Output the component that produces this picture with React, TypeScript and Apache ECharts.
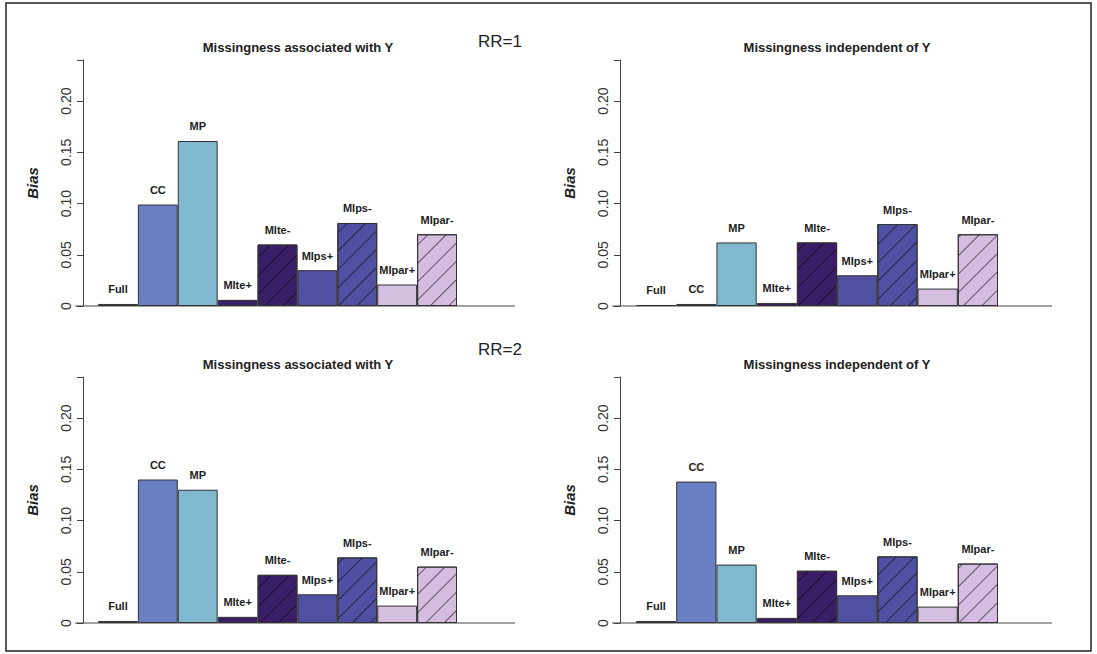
import React, { useEffect, useRef } from "react";
import * as echarts from "echarts";

const categories = ["Full", "CC", "MP", "MIte+", "MIte-", "MIps+", "MIps-", "MIpar+", "MIpar-"];
const rr1AssocValues = [0.002, 0.099, 0.161, 0.006, 0.060, 0.035, 0.081, 0.021, 0.070];
const rr1IndepValues = [0.001, 0.002, 0.062, 0.003, 0.062, 0.030, 0.080, 0.017, 0.070];
const rr2AssocValues = [0.002, 0.140, 0.130, 0.006, 0.047, 0.028, 0.064, 0.017, 0.055];
const rr2IndepValues = [0.002, 0.138, 0.057, 0.005, 0.051, 0.027, 0.065, 0.016, 0.058];
const yTicks = [0, 0.05, 0.1, 0.15, 0.2];
const titles = ["Missingness associated with Y", "Missingness independent of Y"];

const colors = ["#9a9a9a", "#6a80c4", "#7fb8cf", "#3a1f68", "#3a1f68", "#5050a2", "#5050a2", "#d4bfe0", "#d4bde0"];
const hatched = [false, false, false, false, true, false, true, false, true];

const panels = [
  { values: rr1AssocValues, left: 98, width: 359, top: 60, axisX: 83, title: titles[0], tx: 298 },
  { values: rr1IndepValues, left: 636, width: 362, top: 60, axisX: 620, title: titles[1], tx: 837 },
  { values: rr2AssocValues, left: 98, width: 359, top: 377, axisX: 83, title: titles[0], tx: 298 },
  { values: rr2IndepValues, left: 636, width: 362, top: 377, axisX: 620, title: titles[1], tx: 837 },
];

export default function App() {
  const ref = useRef<HTMLDivElement>(null);
  useEffect(() => {
    const chart = echarts.init(ref.current!, null, { renderer: "svg" });
    const H = 246;
    const font = "Liberation Sans, Arial, sans-serif";
    const grid = panels.map((p) => ({ left: p.left, width: p.width, top: p.top, height: H }));
    const xAxis = panels.map((p, i) => ({
      type: "category", gridIndex: i, data: categories,
      axisLine: { show: false }, axisTick: { show: false }, axisLabel: { show: false },
    }));
    const yAxis = panels.map((p, i) => ({
      type: "value", gridIndex: i, min: 0, max: 0.24, interval: 0.05,
      offset: p.left - p.axisX,
      axisLine: { show: true, lineStyle: { color: "#444" } },
      axisTick: { show: true, length: 6, lineStyle: { color: "#444" } },
      splitLine: { show: false },
      axisLabel: {
        rotate: 90, fontSize: 14, color: "#333", fontFamily: font, margin: 10,
        formatter: (v: number) => (yTicks.some((t) => Math.abs(t - v) < 1e-9) ? (v === 0 ? "0" : v.toFixed(2)) : ""),
      },
      name: "Bias", nameLocation: "middle", nameRotate: 90, nameGap: 43,
      nameTextStyle: { fontSize: 15, fontWeight: "bold", fontStyle: "italic", color: "#222", fontFamily: font },
    }));
    const series = panels.map((p, i) => ({
      type: "bar", xAxisIndex: i, yAxisIndex: i, barCategoryGap: "0%",
      label: { show: true, position: "top", distance: 9, formatter: "{b}", fontSize: 11, fontWeight: "bold", color: "#222", fontFamily: font },
      data: p.values.map((v, k) => ({
        value: v,
        itemStyle: {
          color: colors[k], borderColor: "#333", borderWidth: 1,
          decal: hatched[k]
            ? { symbol: "rect", symbolSize: 1, rotation: -Math.PI / 4, dashArrayX: [1, 0], dashArrayY: [1, 12], color: "rgba(0,0,0,0.55)" }
            : "none",
        },
      })),
    }));
    const graphic: any[] = [
      { type: "rect", shape: { x: 6, y: 3, width: 1085, height: 648 }, style: { fill: "none", stroke: "#222", lineWidth: 1.5 } },
      { type: "text", left: 478, top: 33, style: { text: "RR=1", fontSize: 17, fill: "#222", fontFamily: font } },
      { type: "text", left: 478, top: 341, style: { text: "RR=2", fontSize: 17, fill: "#222", fontFamily: font } },
    ];
    panels.forEach((p) => {
      const y0 = p.top + H;
      graphic.push({ type: "line", shape: { x1: p.axisX - 8, y1: y0, x2: p.axisX + 432, y2: y0 }, style: { stroke: "#444", lineWidth: 1 } });
      graphic.push({ type: "text", x: p.tx, y: p.top - 13, style: { text: p.title, fontSize: 13, fontWeight: "bold", fill: "#222", fontFamily: font, align: "center", verticalAlign: "middle" } });
    });
    chart.setOption({ animation: false, backgroundColor: "#fff", grid, xAxis, yAxis, series, graphic } as any);
    return () => chart.dispose();
  }, []);
  return <div ref={ref} style={{ position: "absolute", left: 0, top: 0, width: 1097, height: 654 }} />;
}
